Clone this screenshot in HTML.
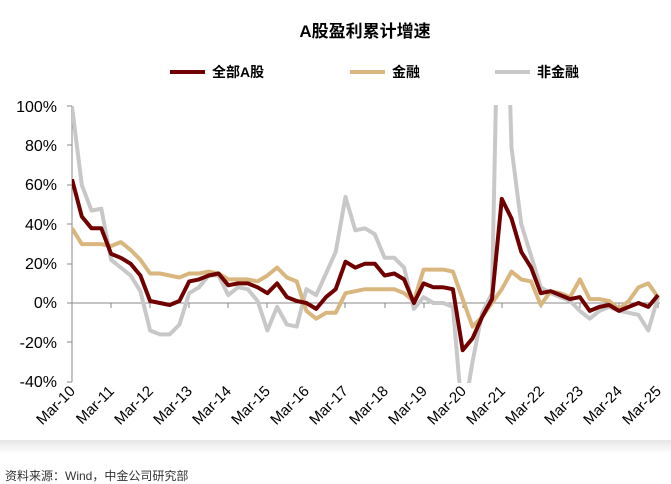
<!DOCTYPE html>
<html><head><meta charset="utf-8"><style>
body{margin:0;background:#fff;}
svg{display:block;font-family:"Liberation Sans","Noto Sans CJK SC",sans-serif;}
</style></head><body>
<svg width="671" height="484" viewBox="0 0 671 484" xmlns="http://www.w3.org/2000/svg">
<defs>
<clipPath id="c"><rect x="72" y="105" width="600" height="278"/></clipPath>
<linearGradient id="g" x1="0" y1="0" x2="0" y2="1"><stop offset="0" stop-color="#e6e6e6"/><stop offset="1" stop-color="#fff"/></linearGradient>
</defs>
<text x="365" y="37" text-anchor="middle" font-size="17" font-weight="bold" fill="#000">A股盈利累计增速</text>
<g font-size="14" font-weight="bold" fill="#000">
<line x1="170" y1="72" x2="205" y2="72" stroke="#700000" stroke-width="4"/><text x="212" y="77">全部A股</text>
<line x1="350" y1="72" x2="385" y2="72" stroke="#d9b67d" stroke-width="4"/><text x="392" y="77">金融</text>
<line x1="495" y1="72" x2="530" y2="72" stroke="#c8c8c8" stroke-width="4"/><text x="537" y="77">非金融</text>
</g>
<g font-size="16" fill="#000" text-anchor="end">
<text x="57" y="112">100%</text><text x="57" y="151">80%</text><text x="57" y="190">60%</text><text x="57" y="230">40%</text><text x="57" y="269">20%</text><text x="57" y="308">0%</text><text x="57" y="348">-20%</text><text x="57" y="387">-40%</text>
</g>
<line x1="72" y1="106" x2="72" y2="382" stroke="#888" stroke-width="1"/>
<g stroke="#888"><line x1="67" y1="106" x2="72" y2="106"/><line x1="67" y1="145" x2="72" y2="145"/><line x1="67" y1="185" x2="72" y2="185"/><line x1="67" y1="224" x2="72" y2="224"/><line x1="67" y1="264" x2="72" y2="264"/><line x1="67" y1="303" x2="72" y2="303"/><line x1="67" y1="342" x2="72" y2="342"/><line x1="67" y1="382" x2="72" y2="382"/></g>
<line x1="72" y1="303" x2="660" y2="303" stroke="#888" stroke-width="1"/>
<g stroke="#888">
<line x1="111" y1="303" x2="111" y2="308"/><line x1="150" y1="303" x2="150" y2="308"/><line x1="189" y1="303" x2="189" y2="308"/><line x1="228" y1="303" x2="228" y2="308"/><line x1="267" y1="303" x2="267" y2="308"/><line x1="306" y1="303" x2="306" y2="308"/><line x1="345" y1="303" x2="345" y2="308"/><line x1="385" y1="303" x2="385" y2="308"/><line x1="424" y1="303" x2="424" y2="308"/><line x1="463" y1="303" x2="463" y2="308"/><line x1="502" y1="303" x2="502" y2="308"/><line x1="541" y1="303" x2="541" y2="308"/><line x1="580" y1="303" x2="580" y2="308"/><line x1="619" y1="303" x2="619" y2="308"/><line x1="658" y1="303" x2="658" y2="308"/>
</g>
<g font-size="15" fill="#000" text-anchor="end">
<text transform="translate(76,392) rotate(-45)">Mar-10</text>
<text transform="translate(115,392) rotate(-45)">Mar-11</text>
<text transform="translate(154,392) rotate(-45)">Mar-12</text>
<text transform="translate(193,392) rotate(-45)">Mar-13</text>
<text transform="translate(232,392) rotate(-45)">Mar-14</text>
<text transform="translate(271,392) rotate(-45)">Mar-15</text>
<text transform="translate(310,392) rotate(-45)">Mar-16</text>
<text transform="translate(349,392) rotate(-45)">Mar-17</text>
<text transform="translate(389,392) rotate(-45)">Mar-18</text>
<text transform="translate(428,392) rotate(-45)">Mar-19</text>
<text transform="translate(467,392) rotate(-45)">Mar-20</text>
<text transform="translate(506,392) rotate(-45)">Mar-21</text>
<text transform="translate(545,392) rotate(-45)">Mar-22</text>
<text transform="translate(584,392) rotate(-45)">Mar-23</text>
<text transform="translate(623,392) rotate(-45)">Mar-24</text>
<text transform="translate(662,392) rotate(-45)">Mar-25</text>
</g>
<g clip-path="url(#c)" fill="none" stroke-width="4" stroke-linejoin="round">
<polyline id="gr" stroke="#c8c8c8"/>
<polyline id="fi" stroke="#d9b67d"/>
<polyline id="al" stroke="#700000"/>
</g>
<rect x="0" y="440" width="671" height="14" fill="url(#g)"/>
<text x="5" y="480" font-size="12" fill="#333">资料来源：Wind，中金公司研究部</text>
<script>
var X0=72,YS=39.07,Q=YS/4;
function y(v){return 303-v*1.965;}
function pts(a){return a.map(function(v,i){return (X0+i*Q).toFixed(1)+","+y(v).toFixed(1)}).join(" ");}
var al=[63,44,38,38,25,23,20,14,1,0,-1,1,11,12,14,15,9,10,10,8,5,10,3,1,0,-3,3,7,21,18,20,20,14,15,12,0,10,8,8,7,-24,-18,-7,2,53,43,26,18,5,6,4,2,3,-4,-2,-1,-4,-2,0,-2,4];
var fi=[38,30,30,30,29,31,27,22,15,15,14,13,15,15,16,15,12,12,12,11,14,18,13,11,-4,-8,-5,-5,5,6,7,7,7,7,5,1,17,17,17,16,2,-12,-7,0,7,16,12,11,-1,6,5,3,12,2,2,1,-3,1,8,10,3];
var gr=[100,60,47,48,22,18,14,6,-14,-16,-16,-11,5,8,14,14,4,8,7,1,-14,-2,-11,-12,7,4,15,26,54,37,38,35,23,23,18,-3,3,0,0,-2,-60,-30,-5,5,250,79,40,24,8,5,3,1,-4,-8,-4,-2,-4,-5,-6,-14,3];
document.getElementById('al').setAttribute('points',pts(al));
document.getElementById('fi').setAttribute('points',pts(fi));
document.getElementById('gr').setAttribute('points',pts(gr));
</script>
</svg>
</body></html>
